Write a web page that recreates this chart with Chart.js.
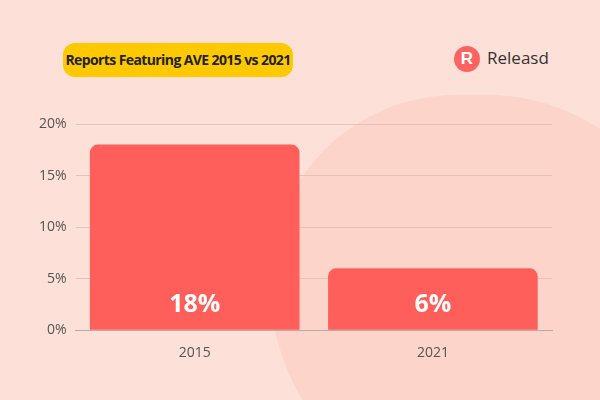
<!DOCTYPE html>
<html><head><meta charset="utf-8">
<script src="https://cdn.jsdelivr.net/npm/chart.js@4"></script>
<style>
html,body{margin:0;padding:0;background:#fde0d7;}
#wrap{position:relative;width:600px;height:400px;overflow:hidden;}
#blob{position:absolute;left:400px;top:95px;width:420px;height:420px;border-radius:48% 52% 40% 60%;background:#fcd4c9;transform:translateX(-130px);}
#title{position:absolute;left:63px;top:43px;width:230px;height:34px;background:#ffc900;border-radius:12px;font:bold 14px "Open Sans",sans-serif;letter-spacing:-0.6px;color:#222;text-align:center;line-height:34px;}
#logo{position:absolute;left:454px;top:46px;font:17px "Open Sans",sans-serif;color:#333;}
#logo span{display:inline-block;width:26px;height:26px;border-radius:50%;background:#ff6361;color:#fff;font:bold 17px sans-serif;text-align:center;line-height:26px;margin-right:7px;vertical-align:middle;}
canvas{position:absolute;left:0;top:0;}
</style></head>
<body><div id="wrap"><div id="blob"></div><div id="title">Reports Featuring AVE 2015 vs 2021</div><div id="logo"><span>R</span>Releasd</div>
<canvas id="c" width="600" height="400"></canvas></div>
<script>
const years = ["2015", "2021"];
const aveShare = [18, 6];
const yTicks = [0, 5, 10, 15, 20];

const barLabels = {
  id: "barLabels",
  afterDatasetsDraw(chart) {
    const ctx = chart.ctx;
    ctx.save();
    ctx.fillStyle = "#fff";
    ctx.font = "bold 25px 'Open Sans', sans-serif";
    ctx.textAlign = "center";
    chart.getDatasetMeta(0).data.forEach((bar, i) => {
      ctx.fillText(aveShare[i] + "%", bar.x, chart.chartArea.bottom - 18);
    });
    ctx.restore();
  }
};

new Chart(document.getElementById("c"), {
  type: "bar",
  data: {
    labels: years,
    datasets: [{
      data: aveShare,
      backgroundColor: "#ff5f5b",
      borderRadius: {topLeft: 8, topRight: 8},
      borderSkipped: "bottom",
      barPercentage: 0.88,
      categoryPercentage: 1
    }]
  },
  options: {
    responsive: false,
    animation: false,
    layout: {padding: {left: 30, right: 48, top: 124, bottom: 33}},
    plugins: {legend: {display: false}, tooltip: {enabled: false}},
    scales: {
      x: {
        grid: {display: false},
        border: {color: "#b9a8a3"},
        ticks: {color: "#555", font: {size: 14, family: "Open Sans"}, padding: 6}
      },
      y: {
        min: 0, max: 20,
        afterBuildTicks: s => { s.ticks = yTicks.map(v => ({value: v})); },
        grid: {color: "#e2c4bb", drawTicks: false},
        border: {display: false},
        ticks: {color: "#555", padding: 9, font: {size: 14, family: "Open Sans"}, callback: v => v + "%"}
      }
    }
  },
  plugins: [barLabels]
});
</script></body></html>
